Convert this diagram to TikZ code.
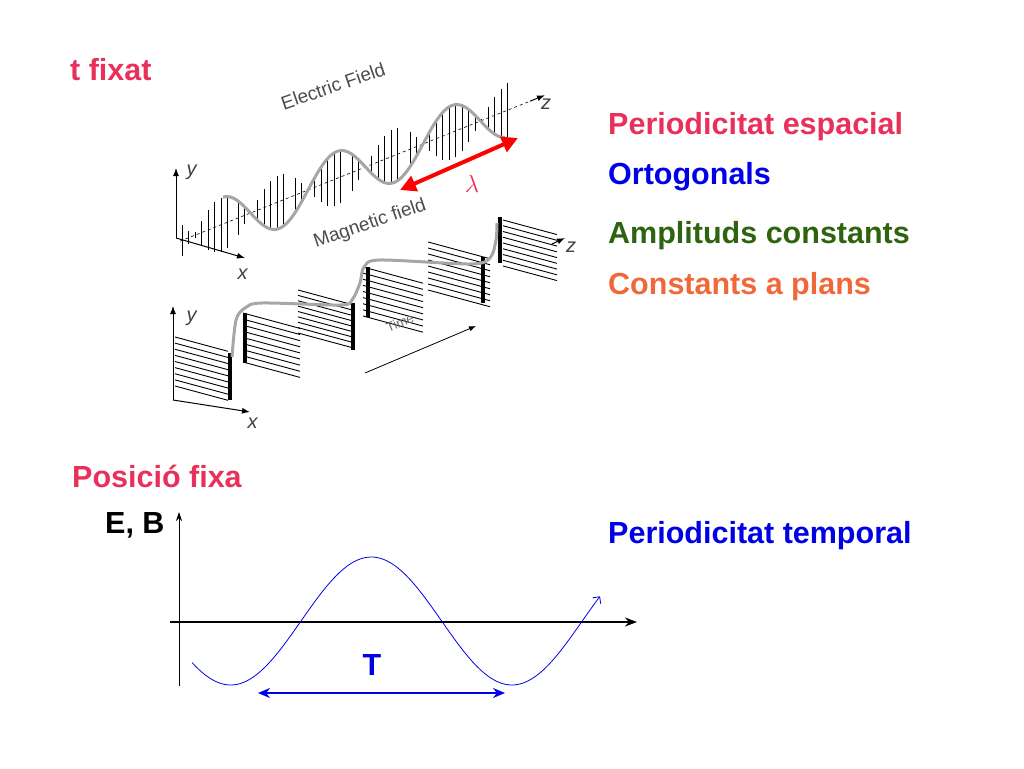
\documentclass[tikz,border=0pt]{standalone}
\usepackage{fontspec}
\setmainfont{Liberation Sans}
\usetikzlibrary{arrows.meta}
\definecolor{cpink}{HTML}{E8305A}
\definecolor{cblue}{HTML}{0000E6}
\definecolor{cgreen}{HTML}{2E6410}
\definecolor{corange}{HTML}{F0683A}
\tikzset{
 lbl/.style={anchor=base west,font=\bfseries\fontsize{30.5}{34}\selectfont,inner sep=0},
 hatch/.style={line width=0.9pt,black},
 wave/.style={line width=3pt,gray!70},
 axisarr/.style={-{Latex[length=8pt,width=6pt]},line width=1pt},
 bar/.style={line width=4pt,black}
}
\begin{document}
\begin{tikzpicture}[x=1pt,y=-1pt]
\useasboundingbox (0,0) rectangle (1024,768);
% texts
\node[lbl,text=cpink] (tf) at (70,81) {t fixat};
\node[lbl,text=cpink] (pe) at (608,134) {Periodicitat espacial};
\node[lbl,text=cblue] (or) at (608,184) {Ortogonals};
\node[lbl,text=cgreen] (am) at (608,243) {Amplituds constants};
\node[lbl,text=corange] (co) at (608,294) {Constants a plans};
\node[lbl,text=cpink] (pf) at (72,487) {Posició fixa};
\node[lbl] (eb) at (105,533) {E, B};
\node[lbl,text=cblue] (pt) at (608,543) {Periodicitat temporal};
% ---- top panel: electric field
\def\ax#1{190-0.40*(#1-308)}
\draw[dashed,line width=0.6pt] (180,{\ax{180}}) -- (530,{\ax{530}});
\draw[axisarr] (530,{\ax{530}}) -- (545,{\ax{545}});
\node[font=\fontsize{20}{22}\selectfont,text=black!75] (z1) at (546,104) {\textit{z}};
\foreach \s in {182,238,295,352,410,462}{
  \foreach \k in {0,...,7}{
    \pgfmathsetmacro{\xx}{\s+\k*6.5}
    \pgfmathsetmacro{\ya}{\ax{\xx}}
    \pgfmathsetmacro{\yc}{\ya-27*sin(3.1304*(\xx-308))}
    \draw[hatch] (\xx,{2*\ya-\yc}) -- (\xx,\yc);
  }
}
\draw[wave] plot[domain=223:505,samples=80] (\x,{\ax{\x}-27*sin(3.1304*(\x-308))});
\draw[axisarr] (176,238) -- (176,168);
\draw[axisarr] (176,238) -- (245,258);
\node[font=\fontsize{20}{22}\selectfont,text=black!75] (y1) at (192,172) {\textit{y}};
\node[font=\fontsize{20}{22}\selectfont,text=black!75] (x1) at (243,274) {\textit{x}};
\node[rotate=19,font=\fontsize{19}{21}\selectfont,text=black!70] (ef) at (333,86) {Electric Field};
\node[rotate=19,font=\fontsize{19}{21}\selectfont,text=black!70] (mf) at (370,224) {Magnetic field};
% red lambda arrow
\coordinate (la) at (400,190);
\coordinate (lb) at (518,138);
\draw[red,line width=4pt,{Triangle[length=16pt,width=16pt]}-{Triangle[length=16pt,width=16pt]}] (la) -- (lb);
\node[text=cpink,font=\fontsize{26}{28}\selectfont] (lam) at (472,184) {$\lambda$};
% ---- lower panel: magnetic field
\foreach \xa/\xb/\ya/\yb in {175/228/337/386, 243/300/313/362, 298/353/290/333, 363/423/267/316, 428/490/242/290, 503/557/220/266}{
  \foreach \k in {0,...,8}{
    \pgfmathsetmacro{\yy}{\ya+\k*(\yb-\ya)/8}
    \draw[hatch] (\xa,\yy) -- (\xb,{\yy+0.27*(\xb-\xa)});
  }
}
\foreach \bx/\ba/\bb in {230/353/400, 245/313/363, 353/303/350, 368/267/317, 483/257/303, 500/217/263}{
  \draw[bar] (\bx,\ba) -- (\bx,\bb);
}
\draw[wave] plot[smooth] coordinates {(232,357) (236,320) (245,308) (262,303) (340,305) (352,300) (360,283) (364,267) (380,260) (470,264) (490,258) (496,240) (497,223)};
\draw[axisarr] (173,400) -- (173,306);
\draw[axisarr] (173,400) -- (250,412);
\draw[axisarr] (552,244) -- (565,238);
\node[font=\fontsize{20}{22}\selectfont,text=black!75] (y2) at (192,318) {\textit{y}};
\node[font=\fontsize{20}{22}\selectfont,text=black!75] (x2) at (253,423) {\textit{x}};
\node[font=\fontsize{20}{22}\selectfont,text=black!75] (z2) at (571,247) {\textit{z}};
\coordinate (ta) at (365,373);
\coordinate (tb) at (476,326);
\draw[-{Latex[length=7pt]},line width=0.8pt] (ta) -- (tb);
\node[rotate=23,font=\fontsize{13}{14}\selectfont,text=black!60] (tm) at (400,323) {Time};
% ---- bottom graph
\draw[line width=0.8pt] (179,686) -- (179,520);
\draw[-{Stealth[length=9pt,width=6pt]},line width=0.8pt] (179,525) -- (179,512);
\draw[-{Stealth[length=12pt,width=9pt]},line width=2.5pt] (170,622) -- (637,622);
\draw[cblue,line width=0.8pt,-{Straight Barb[length=5pt]}] plot[domain=192:600,samples=120] (\x,{621-64*sin(1.28*(\x-301))});
\coordinate (t1) at (258,693);
\coordinate (t2) at (505,693);
\draw[cblue,line width=2.5pt,{Stealth[length=12pt,width=10pt]}-{Stealth[length=12pt,width=10pt]}] (t1) -- (t2);
\node[text=cblue,font=\bfseries\fontsize{30.5}{34}\selectfont] (T) at (372,665) {T};
\end{tikzpicture}
\end{document}
